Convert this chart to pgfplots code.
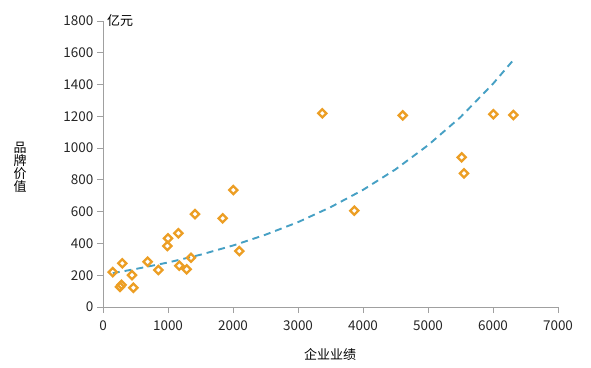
\documentclass[border=0pt]{standalone}
\usepackage{pgfplots}
\pgfplotsset{compat=1.18}
\usepackage{fontspec}
\setmainfont{Noto Sans CJK SC}
\definecolor{mk}{RGB}{236,158,36}
\definecolor{tl}{RGB}{70,160,196}
\definecolor{ax}{RGB}{160,160,160}
\begin{document}
\begin{tikzpicture}
\path[use as bounding box] (0pt,0pt) rectangle (591pt,367pt);
\begin{axis}[
  at={(103pt,60pt)}, anchor=south west,
  scale only axis, width=455pt, height=286pt,
  xmin=0, xmax=7000, ymin=0, ymax=1800,
  xtick={0,1000,...,7000}, ytick={0,200,...,1800},
  axis x line*=bottom, axis y line*=left,
  axis line style={ax, line width=0.8pt, -},
  tick style={ax, line width=0.8pt},
  tick align=outside, major tick length=6pt,
  ticklabel style={font=\fontsize{13.5}{15}\selectfont, text=black!85},
  xticklabel style={yshift=-4pt},
  /pgf/number format/assume math mode=true,
  /pgf/number format/1000 sep={},
  clip=false,
]
\addplot[only marks, mark=square, mark size=2.9pt, mark options={draw=mk, line width=2.3pt, rotate=45}] coordinates {
(150,220) (297,275) (262,127) (285,140) (446,201) (467,121) (687,285) (851,233)
(990,384) (1000,432) (1159,464) (1174,260) (1287,237) (1354,310) (1415,585)
(1841,558) (2005,736) (2097,352) (3374,1219) (3866,606) (4610,1206)
(5518,942) (5554,841) (6005,1213) (6313,1208)
};
\addplot[tl, line width=1.9pt, dash pattern=on 7pt off 5pt] coordinates {
(150,213) (500,239) (1000,280) (1500,329) (2000,387) (2500,455) (3000,534)
(3500,628) (4000,737) (4500,866) (5000,1018) (5500,1195) (6000,1405) (6300,1548)
};
\node[anchor=west, font=\fontsize{13}{15}\selectfont, inner sep=0pt] at (axis cs:0,1800) [xshift=4pt] {亿元};
\end{axis}
\node[font=\fontsize{13}{15}\selectfont, align=center, inner sep=0pt] at (20pt,200pt) {品\\[-2pt]牌\\[-2pt]价\\[-2pt]值};
\node[font=\fontsize{13}{15}\selectfont, inner sep=0pt] at (330pt,12pt) {企业业绩};
\end{tikzpicture}
\end{document}
